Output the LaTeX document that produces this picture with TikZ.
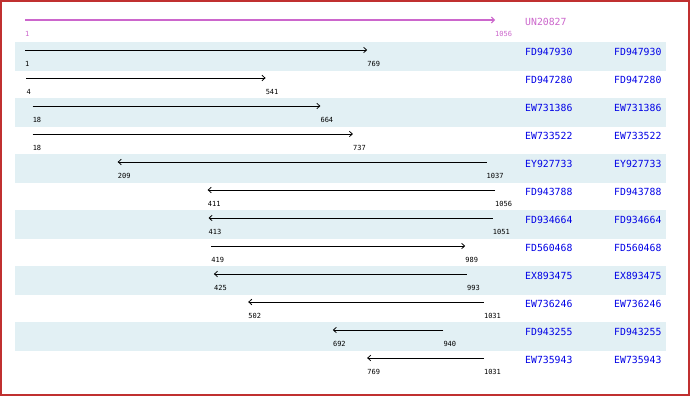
\documentclass[tikz,border=0pt]{standalone}
\usepackage{fontspec}
\setmonofont{DejaVu Sans Mono}
\usetikzlibrary{arrows.meta}
\definecolor{bandc}{RGB}{226,240,244}
\definecolor{magc}{RGB}{204,102,204}
\definecolor{idblue}{RGB}{0,0,230}
\definecolor{framec}{RGB}{192,48,48}
\begin{document}
\begin{tikzpicture}[x=1pt,y=-1pt,
  seqarrow/.style={draw=black,line width=0.9pt,-{Straight Barb[length=3pt,width=5.5pt,line width=0.8pt]}},
  hdrarrow/.style={draw=magc,line width=2pt,-{Straight Barb[length=3pt,width=6pt,line width=1pt]}},
  numlbl/.style={font=\ttfamily\fontsize{7}{7}\selectfont,inner sep=0pt,anchor=west},
  idlbl/.style={font=\ttfamily\fontsize{9.8}{10}\selectfont,text=idblue,inner sep=0pt,anchor=west}]
\useasboundingbox (0,0) rectangle (690,396);
\fill[white] (0,0) rectangle (690,396);
% header
\coordinate (ht) at (25,20);
\coordinate (hh) at (495,20);
\draw[hdrarrow] (ht) -- (hh);
\node[numlbl,text=magc] (hl) at (25,34) {1};
\node[numlbl,text=magc] (hr) at (495,34) {1056};
\node[idlbl,text=magc] (hn) at (525,22) {UN20827};
% rows
\foreach \i/\a/\b/\nm in {1/1/769/FD947930,2/4/541/FD947280,3/18/664/EW731386,4/18/737/EW733522,
  5/1037/209/EY927733,6/1056/411/FD943788,7/1051/413/FD934664,8/419/989/FD560468,
  9/993/425/EX893475,10/1031/502/EW736246,11/940/692/FD943255,12/1031/769/EW735943}{
  \pgfmathsetmacro\ya{50+28*(\i-1)}
  \pgfmathsetmacro\xa{25+(\a-1)*0.4454976}
  \pgfmathsetmacro\xb{25+(\b-1)*0.4454976}
  \ifodd\i\relax
    \fill[bandc] (15,\ya-8) rectangle (666,\ya+20.5);
  \fi
  \coordinate (t\i) at (\xa,\ya);
  \coordinate (h\i) at (\xb,\ya);
  \draw[seqarrow] (t\i) -- (h\i);
  \node[numlbl] (la\i) at (\xa,\ya+14) {\a};
  \node[numlbl] (lb\i) at (\xb,\ya+14) {\b};
  \node[idlbl] (n\i) at (525,\ya+2) {\nm};
  \node[idlbl] (m\i) at (614,\ya+2) {\nm};
}
\draw[framec,line width=2pt] (1,1) rectangle (689,395);
\end{tikzpicture}
\end{document}
